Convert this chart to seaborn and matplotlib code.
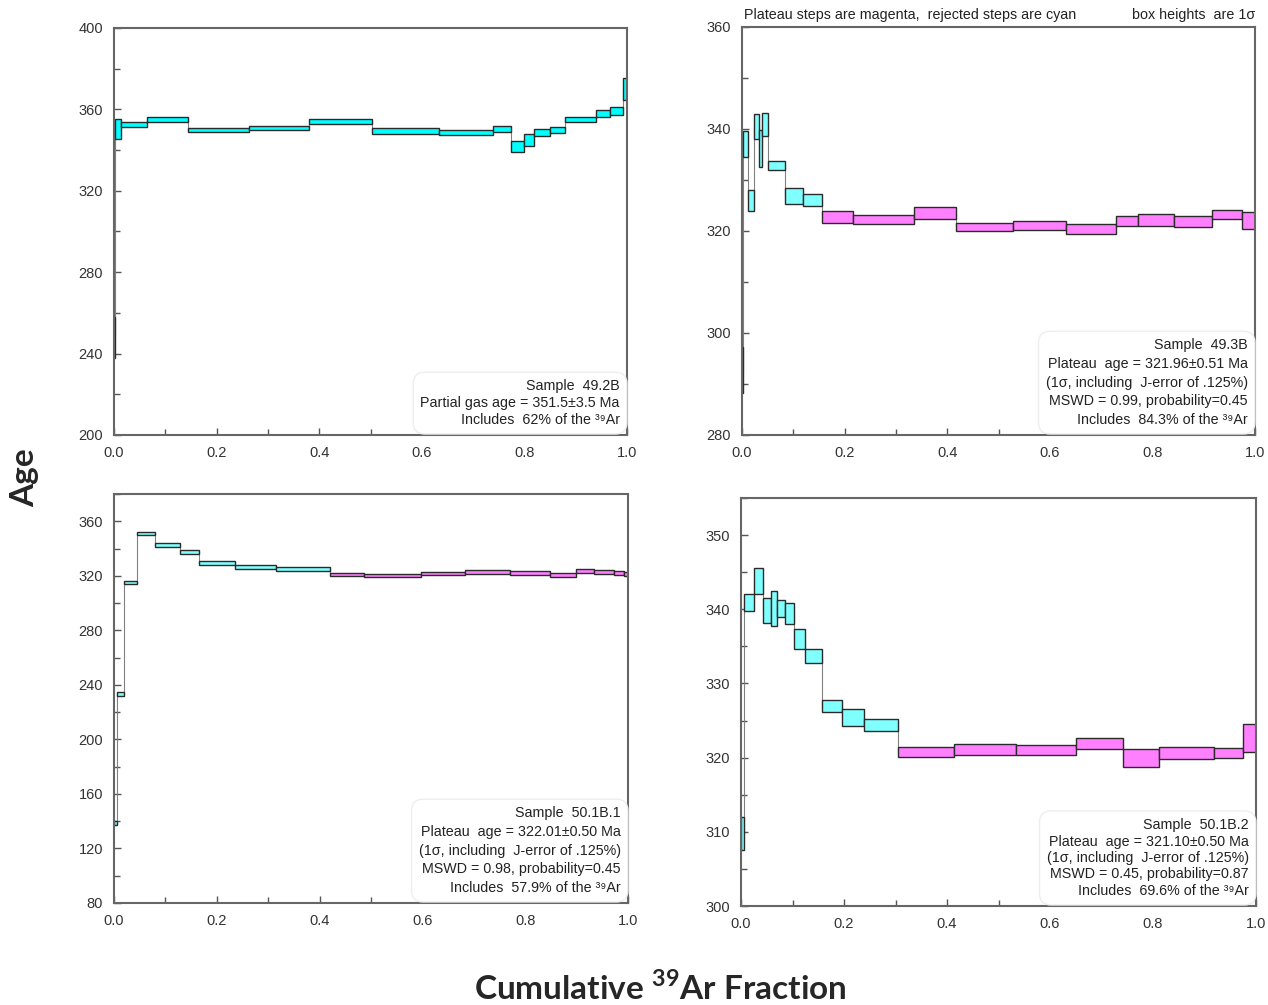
import numpy as np
import pandas as pd
import matplotlib
matplotlib.use("Agg")
import matplotlib.pyplot as plt
from matplotlib.ticker import MultipleLocator
import seaborn as sns

# ---------------- data ----------------
# cumulative 39Ar fraction boundaries (n+1), ages (Ma), 1-sigma errors, first plateau step index
bounds_a = [0, 0.002, 0.014, 0.064, 0.145, 0.263, 0.381, 0.502, 0.633, 0.738, 0.774,
            0.799, 0.819, 0.849, 0.879, 0.939, 0.967, 0.992, 1.0]
ages_a = [248, 350.4, 352.5, 355.1, 349.8, 350.75, 354.05, 349.45, 348.65, 350.35, 342.0,
          345.0, 348.6, 349.7, 355.1, 357.95, 359.35, 370.0]
errs_a = [10, 4.9, 1.15, 1.1, 0.9, 1.05, 1.05, 1.55, 1.05, 1.45, 2.7, 2.8, 1.8, 1.5, 1.1,
          1.75, 1.95, 5.55]
plat_a = None

bounds_b = [0, 0.002, 0.012, 0.023, 0.033, 0.039, 0.050, 0.084, 0.119, 0.156, 0.217, 0.336,
            0.418, 0.528, 0.631, 0.729, 0.771, 0.843, 0.917, 0.974, 1.0]
ages_b = [292.7, 337.1, 326.0, 340.5, 336.2, 340.9, 332.9, 326.8, 326.1, 322.7, 322.2, 323.5,
          320.8, 321.0, 320.4, 321.9, 322.2, 321.8, 323.3, 322.05]
errs_b = [4.5, 2.5, 2.0, 2.4, 3.6, 2.2, 0.9, 1.6, 1.15, 1.2, 0.9, 1.2, 0.8, 0.9, 1.05, 1.0,
          1.15, 1.1, 0.9, 1.75]
plat_b = 9

bounds_c = [0, 0.006, 0.020, 0.044, 0.080, 0.129, 0.165, 0.235, 0.315, 0.421, 0.487, 0.598,
            0.682, 0.771, 0.849, 0.899, 0.934, 0.973, 0.992, 1.0]
ages_c = [138.4, 233.0, 314.9, 350.9, 342.35, 337.55, 329.5, 326.35, 324.65, 321.3, 320.4,
          321.45, 323.05, 321.85, 320.65, 323.45, 323.05, 322.1, 321.0]
errs_c = [1.5, 1.5, 1.0, 1.2, 1.35, 1.45, 1.5, 1.25, 1.45, 1.1, 1.1, 1.0, 1.55, 1.35, 1.35,
          1.45, 1.55, 1.6, 1.45]
plat_c = 9

bounds_d = [0, 0.005, 0.025, 0.042, 0.059, 0.069, 0.085, 0.102, 0.125, 0.158, 0.196, 0.239,
            0.304, 0.413, 0.534, 0.650, 0.741, 0.812, 0.919, 0.975, 1.0]
ages_d = [309.75, 340.9, 343.8, 339.8, 340.1, 340.05, 339.45, 335.95, 333.65, 327.0, 325.4,
          324.4, 320.8, 321.1, 321.0, 321.9, 319.95, 320.6, 320.65, 322.65]
errs_d = [2.25, 1.1, 1.8, 1.7, 2.4, 1.15, 1.45, 1.35, 0.95, 0.8, 1.1, 0.8, 0.7, 0.8, 0.7, 0.7,
          1.25, 0.8, 0.7, 1.85]
plat_d = 12

xticks = [0.0, 0.2, 0.4, 0.6, 0.8, 1.0]
xtick_labels = ["0.0", "0.2", "0.4", "0.6", "0.8", "1.0"]

notes = [
    "Sample  49.2B\nPartial gas age = 351.5\u00b13.5 Ma\nIncludes  62% of the \u00b3\u2079Ar",
    "Sample  49.3B\nPlateau  age = 321.96\u00b10.51 Ma\n(1\u03c3, including  J-error of .125%)\n"
    "MSWD = 0.99, probability=0.45\nIncludes  84.3% of the \u00b3\u2079Ar",
    "Sample  50.1B.1\nPlateau  age = 322.01\u00b10.50 Ma\n(1\u03c3, including  J-error of .125%)\n"
    "MSWD = 0.98, probability=0.45\nIncludes  57.9% of the \u00b3\u2079Ar",
    "Sample  50.1B.2\nPlateau  age = 321.10\u00b10.50 Ma\n(1\u03c3, including  J-error of .125%)\n"
    "MSWD = 0.45, probability=0.87\nIncludes  69.6% of the \u00b3\u2079Ar",
]

# ---------------- style ----------------
sns.set_theme(style="white")
plt.rcParams["font.family"] = ["Liberation Sans", "DejaVu Sans"]
plt.rcParams["mathtext.fontset"] = "custom"
plt.rcParams["mathtext.rm"] = "Liberation Sans"
plt.rcParams["mathtext.bf"] = "Lato:bold"

fig = plt.figure(figsize=(12.68, 10.05), dpi=100)
W, H = 1268, 1005


def add_ax(l, r, t, b):
    return fig.add_axes([l / W, 1 - b / H, (r - l) / W, (b - t) / H])


panels = [
    dict(ax=add_ax(114, 627, 28, 435), b=bounds_a, a=ages_a, e=errs_a, p=plat_a,
         ylim=(200, 400), major=40, minor=20, cyan="#00ffff", ls=1.25),
    dict(ax=add_ax(742, 1255, 27, 435), b=bounds_b, a=ages_b, e=errs_b, p=plat_b,
         ylim=(280, 360), major=20, minor=10, cyan="#80ffff", ls=1.42),
    dict(ax=add_ax(114, 628, 494, 903), b=bounds_c, a=ages_c, e=errs_c, p=plat_c,
         ylim=(80, 380), major=40, minor=20, cyan="#80ffff", ls=1.42),
    dict(ax=add_ax(741, 1256, 498, 906), b=bounds_d, a=ages_d, e=errs_d, p=plat_d,
         ylim=(300, 355), major=10, minor=5, cyan="#80ffff", ls=1.22),
]

for i, P in enumerate(panels):
    ax = P["ax"]
    b = np.array(P["b"])
    a = np.array(P["a"])
    e = np.array(P["e"])
    df = pd.DataFrame({"x": b[:-1], "w": np.diff(b), "age": a, "err": e})
    df["plateau"] = False if P["p"] is None else (np.arange(len(a)) >= P["p"])

    # connecting step line
    line_df = pd.DataFrame({"x": np.append(b[:-1], b[-1]), "age": np.append(a, a[-1])})
    sns.lineplot(data=line_df, x="x", y="age", ax=ax, color="#808080", lw=0.8,
                 drawstyle="steps-post", zorder=1, sort=False)

    colors = [("#ff80ff" if pl else P["cyan"]) for pl in df["plateau"]]
    ax.bar(df["x"], 2 * df["err"], width=df["w"], bottom=df["age"] - df["err"],
           align="edge", color=colors, edgecolor="#2a2a2a", linewidth=1.0, zorder=2)

    ax.set_xlim(0, 1)
    ax.set_ylim(*P["ylim"])
    ax.set_xticks(xticks)
    ax.set_xticklabels(xtick_labels)
    ax.xaxis.set_minor_locator(MultipleLocator(0.1))
    ax.yaxis.set_major_locator(MultipleLocator(P["major"]))
    ax.yaxis.set_minor_locator(MultipleLocator(P["minor"]))
    yt = [t for t in ax.get_yticks() if P["ylim"][0] <= t <= P["ylim"][1] + 1e-9]
    ax.set_yticks(yt)
    ax.set_yticklabels([f"{int(t)}" for t in yt])
    ax.set_ylim(*P["ylim"])
    ax.tick_params(axis="both", which="both", direction="in", labelsize=10.5,
                   labelcolor="#333333", color="#555555", width=1.0)
    ax.tick_params(axis="both", which="major", length=5, pad=8)
    ax.tick_params(axis="both", which="minor", length=4)
    ax.tick_params(axis="y", which="both", left=True, right=False)
    ax.tick_params(axis="x", which="both", bottom=True, top=False)
    ax.set_xlabel("")
    ax.set_ylabel("")
    for s in ax.spines.values():
        s.set_color("#666666")
        s.set_linewidth(1.5)

    ax.text(0.986, 0.02, notes[i], transform=ax.transAxes, ha="right", va="bottom",
            fontsize=10.3, color="#222222", multialignment="right", linespacing=P["ls"],
            bbox=dict(boxstyle="round,pad=0.5,rounding_size=0.8", fc="white",
                      ec="#eeeeee", lw=1.0), zorder=5)

# top annotations of panel 2
ax2 = panels[1]["ax"]
ax2.text(0.004, 1.012, "Plateau steps are magenta,  rejected steps are cyan",
         transform=ax2.transAxes, ha="left", va="bottom", fontsize=10.3, color="#222222")
ax2.text(1.0, 1.012, "box heights  are 1\u03c3", transform=ax2.transAxes,
         ha="right", va="bottom", fontsize=10.3, color="#222222")

fig.text(25 / W, 1 - 478 / H, "Age", rotation=90, ha="center", va="center",
         fontsize=24, fontweight="bold", family=["Lato", "DejaVu Sans"])
fig.text(660 / W, 1 - 988 / H, "Cumulative $^{\\mathbf{39}}$Ar Fraction", ha="center",
         va="center", fontsize=24, fontweight="bold", family=["Lato", "DejaVu Sans"])

fig.savefig("out.png", dpi=100, facecolor="white")
